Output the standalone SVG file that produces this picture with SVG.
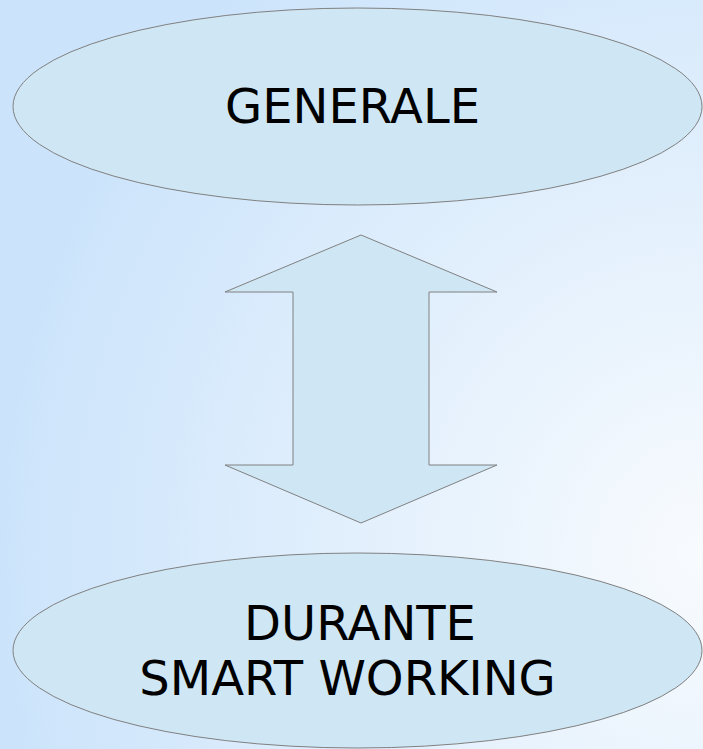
<svg xmlns="http://www.w3.org/2000/svg" width="703" height="749" viewBox="0 0 703 749">
<defs>
<radialGradient id="bg" gradientUnits="objectBoundingBox" cx="1" cy="0.74" r="1">
<stop offset="0" stop-color="#f8fbfe"/>
<stop offset="1" stop-color="#cce4fb"/>
</radialGradient>
</defs>
<style>
.shape{fill:#cfe6f4;stroke:#808080;stroke-width:1}
.lbl{font-family:"DejaVu Sans",sans-serif;font-size:48px;fill:#000000;text-anchor:middle}
</style>
<rect x="0" y="0" width="703" height="749" fill="url(#bg)"/>
<g id="node-generale">
<ellipse class="shape" cx="357.5" cy="106.5" rx="344.5" ry="98.5"/>
<text class="lbl" x="352.5" y="123">GENERALE</text>
</g>
<g id="connectors">
<polygon class="shape" points="361,235 497,292 429,292 429,465 497,465 361,523 225,465 293,465 293,292 225,292"/>
</g>
<g id="node-durante">
<ellipse class="shape" cx="357.5" cy="650.5" rx="344.5" ry="97.5"/>
<text class="lbl" x="360" y="640">DURANTE</text>
<text class="lbl" x="347.5" y="695">SMART WORKING</text>
</g>
</svg>
